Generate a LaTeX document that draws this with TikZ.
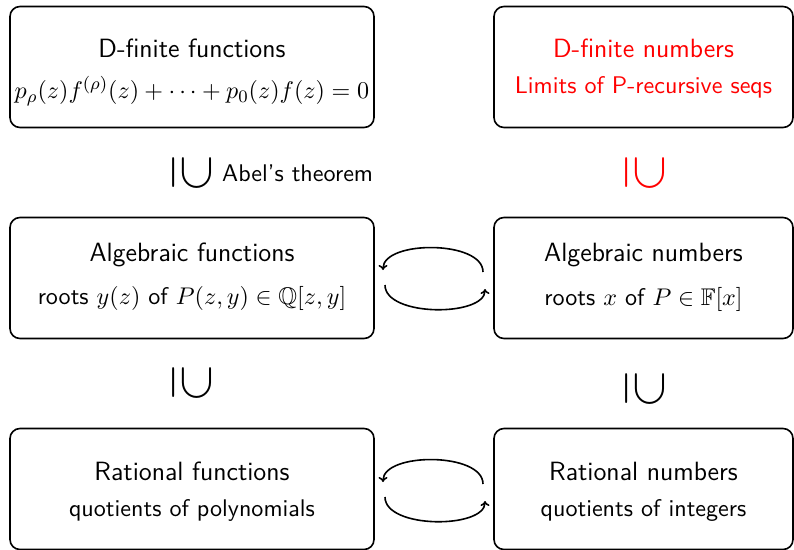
\documentclass[tikz,border=0pt]{standalone}
\usepackage{amssymb}
\usepackage{graphicx}
\renewcommand{\familydefault}{\sfdefault}
\usetikzlibrary{arrows.meta}
\newcommand{\ttl}[1]{\scalebox{2.2}{\fontsize{12}{14}\selectfont #1}}
\newcommand{\bdy}[1]{\scalebox{2.2}{\fontsize{10.95}{13}\selectfont #1}}
\newcommand{\incl}{\scalebox{4.6}{\fontsize{10.95}{13}\selectfont\rotatebox{-90}{$\supseteq$}}}
\tikzset{
  boxl/.style={draw, line width=1.6pt, rounded corners=10pt, minimum width=364pt, minimum height=121pt, inner sep=0pt},
  boxr/.style={boxl, minimum width=299pt},
  txt/.style={inner sep=0pt},
  cyc/.style={line width=1.6pt, -{To[length=5pt,width=9pt]}},
}
\begin{document}
\begin{tikzpicture}[x=1pt,y=-1pt]
\useasboundingbox (0,0) rectangle (794,549);
% top row
\node[boxl] (df) at (192,67) {};
\node[txt] (dft) at (192,48) {\ttl{D-finite functions}};
\node[txt] (dfb) at (192,91) {\bdy{$p_\rho(z)f^{(\rho)}(z)+\cdots+p_0(z)f(z)=0$}};
\node[boxr] (dn) at (643.5,67) {};
\node[txt,red] (dnt) at (643.5,48) {\ttl{D-finite numbers}};
\node[txt,red] (dnb) at (643.5,87) {\bdy{Limits of P-recursive seqs}};
% inclusions
\node[txt] (i1) at (192,173) {\incl};
\node[txt,anchor=west] (abel) at (222,173) {\bdy{Abel's theorem}};
\node[txt,red] (i2) at (645,173) {\incl};
% middle row
\node[boxl] (af) at (192,278) {};
\node[txt] (aft) at (192,255) {\ttl{Algebraic functions}};
\node[txt] (afb) at (192,298) {\bdy{roots $y(z)$ of $P(z,y)\in\mathbb{Q}[z,y]$}};
\node[boxr] (an) at (643.5,278) {};
\node[txt] (ant) at (643.5,255) {\ttl{Algebraic numbers}};
\node[txt] (anb) at (643.5,299) {\bdy{roots $x$ of $P\in\mathbb{F}[x]$}};
\node[txt] (i3) at (192,383) {\incl};
\node[txt] (i4) at (645,389) {\incl};
% bottom row
\node[boxl] (rf) at (192,489) {};
\node[txt] (rft) at (192,471) {\ttl{Rational functions}};
\node[txt] (rfb) at (192,510) {\bdy{quotients of polynomials}};
\node[boxr] (rn) at (643.5,489) {};
\node[txt] (rnt) at (643.5,471) {\ttl{Rational numbers}};
\node[txt] (rnb) at (643.5,510) {\bdy{quotients of integers}};
% cycle arrows middle
\coordinate (m1) at (483,272);
\coordinate (m2) at (383,270);
\coordinate (m3) at (385,285);
\coordinate (m4) at (485,289);
\draw[cyc] (m1) .. controls (483,240) and (383,240) .. (m2);
\draw[cyc] (m3) .. controls (385,317) and (485,317) .. (m4);
% cycle arrows bottom
\coordinate (b1) at (483,484);
\coordinate (b2) at (383,482);
\coordinate (b3) at (385,497);
\coordinate (b4) at (485,501);
\draw[cyc] (b1) .. controls (483,452) and (383,452) .. (b2);
\draw[cyc] (b3) .. controls (385,529) and (485,529) .. (b4);
\end{tikzpicture}
\end{document}
